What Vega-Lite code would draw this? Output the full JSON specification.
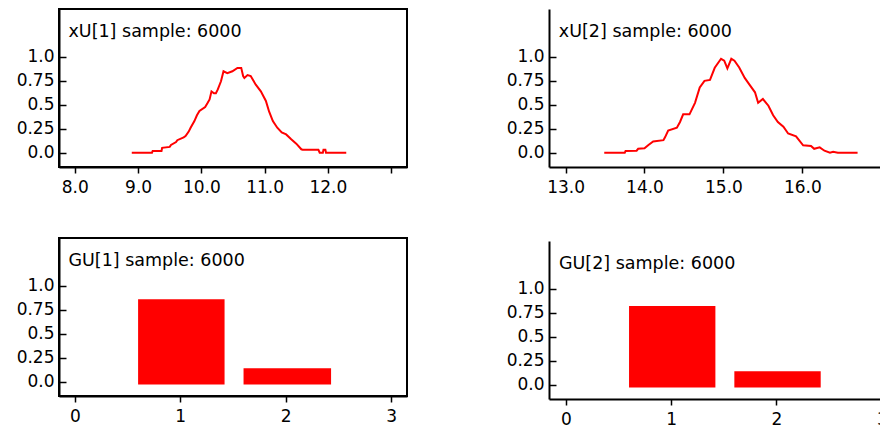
{
  "$schema": "https://vega.github.io/schema/vega-lite/v6.json",
  "background": "white",
  "padding": {"left": 15, "top": 8, "right": -8, "bottom": 0},
  "config": {
    "font": "DejaVu Sans",
    "view": {"stroke": "black", "strokeWidth": 2},
    "axis": {
      "labelFont": "DejaVu Sans",
      "labelFontSize": 17,
      "labelColor": "black",
      "domainColor": "black",
      "domainWidth": 2,
      "tickColor": "black",
      "tickWidth": 1.5,
      "grid": false,
      "title": null,
      "labelOverlap": false,
      "labelFlush": false
    },
    "axisX": {"tickSize": 6, "labelPadding": 6},
    "axisY": {"tickSize": -7, "labelPadding": 12},
    "text": {"font": "DejaVu Sans", "fontSize": 17.5, "color": "black"}
  },
  "datasets": {
    "xU1": [
      {"x": 8.90, "y": 0}, {"x": 9.22, "y": 0}, {"x": 9.23, "y": 0.017}, {"x": 9.37, "y": 0.017},
      {"x": 9.38, "y": 0.05}, {"x": 9.50, "y": 0.06}, {"x": 9.52, "y": 0.08}, {"x": 9.60, "y": 0.11},
      {"x": 9.62, "y": 0.13}, {"x": 9.72, "y": 0.16}, {"x": 9.75, "y": 0.174}, {"x": 9.80, "y": 0.22},
      {"x": 9.83, "y": 0.26}, {"x": 9.89, "y": 0.33}, {"x": 9.93, "y": 0.39}, {"x": 9.97, "y": 0.435},
      {"x": 10.06, "y": 0.476}, {"x": 10.10, "y": 0.52}, {"x": 10.13, "y": 0.556}, {"x": 10.16, "y": 0.64},
      {"x": 10.20, "y": 0.62}, {"x": 10.23, "y": 0.62}, {"x": 10.26, "y": 0.66}, {"x": 10.31, "y": 0.745},
      {"x": 10.35, "y": 0.85}, {"x": 10.41, "y": 0.83}, {"x": 10.49, "y": 0.85}, {"x": 10.57, "y": 0.885},
      {"x": 10.63, "y": 0.885}, {"x": 10.66, "y": 0.80}, {"x": 10.68, "y": 0.78}, {"x": 10.73, "y": 0.81},
      {"x": 10.78, "y": 0.80}, {"x": 10.86, "y": 0.71}, {"x": 10.94, "y": 0.64}, {"x": 11.02, "y": 0.54},
      {"x": 11.07, "y": 0.43}, {"x": 11.13, "y": 0.33}, {"x": 11.20, "y": 0.26}, {"x": 11.27, "y": 0.21},
      {"x": 11.34, "y": 0.19}, {"x": 11.42, "y": 0.14}, {"x": 11.50, "y": 0.094}, {"x": 11.58, "y": 0.035},
      {"x": 11.60, "y": 0.03}, {"x": 11.85, "y": 0.03}, {"x": 11.87, "y": 0.0}, {"x": 11.92, "y": 0.0},
      {"x": 11.93, "y": 0.03}, {"x": 11.96, "y": 0.03}, {"x": 11.97, "y": 0.0}, {"x": 12.29, "y": 0}
    ],
    "xU2": [
      {"x": 13.49, "y": 0}, {"x": 13.75, "y": 0}, {"x": 13.76, "y": 0.017}, {"x": 13.90, "y": 0.02},
      {"x": 13.92, "y": 0.04}, {"x": 14.00, "y": 0.045}, {"x": 14.05, "y": 0.08}, {"x": 14.11, "y": 0.117},
      {"x": 14.24, "y": 0.13}, {"x": 14.26, "y": 0.16}, {"x": 14.30, "y": 0.23}, {"x": 14.41, "y": 0.26},
      {"x": 14.45, "y": 0.32}, {"x": 14.49, "y": 0.40}, {"x": 14.57, "y": 0.40}, {"x": 14.64, "y": 0.52},
      {"x": 14.70, "y": 0.68}, {"x": 14.76, "y": 0.75}, {"x": 14.83, "y": 0.76}, {"x": 14.89, "y": 0.886},
      {"x": 14.97, "y": 0.98}, {"x": 15.01, "y": 0.96}, {"x": 15.05, "y": 0.88}, {"x": 15.10, "y": 0.98},
      {"x": 15.14, "y": 0.96}, {"x": 15.20, "y": 0.89}, {"x": 15.27, "y": 0.78}, {"x": 15.33, "y": 0.71},
      {"x": 15.40, "y": 0.63}, {"x": 15.44, "y": 0.52}, {"x": 15.50, "y": 0.56}, {"x": 15.57, "y": 0.49},
      {"x": 15.63, "y": 0.39}, {"x": 15.69, "y": 0.32}, {"x": 15.76, "y": 0.27}, {"x": 15.82, "y": 0.20},
      {"x": 15.92, "y": 0.17}, {"x": 16.01, "y": 0.076}, {"x": 16.11, "y": 0.07}, {"x": 16.15, "y": 0.04},
      {"x": 16.22, "y": 0.055}, {"x": 16.28, "y": 0.02}, {"x": 16.35, "y": 0.0}, {"x": 16.39, "y": 0.01},
      {"x": 16.45, "y": 0}, {"x": 16.70, "y": 0}
    ],
    "GU1": [
      {"g": 1, "x0": 0.6, "x1": 1.42, "p": 0.86},
      {"g": 2, "x0": 1.6, "x1": 2.43, "p": 0.14}
    ],
    "GU2": [
      {"g": 1, "x0": 0.6, "x1": 1.42, "p": 0.82},
      {"g": 2, "x0": 1.6, "x1": 2.42, "p": 0.14}
    ]
  },
  "spacing": 98,
  "hconcat": [
    {
      "spacing": 41,
      "vconcat": [
        {
          "width": 348, "height": 158,
          "view": {"stroke": "black", "strokeWidth": 2},
          "layer": [
            {
              "data": {"name": "xU1"},
              "mark": {"type": "line", "color": "#ff0000", "strokeWidth": 2},
              "encoding": {
                "x": {"field": "x", "type": "quantitative",
                      "scale": {"domain": [7.75, 13.25], "nice": false, "zero": false},
                      "axis": {"values": [8, 9, 10, 11, 12, 13], "labelDx": 12,
                               "labelExpr": "datum.value == 13 ? '' : format(datum.value, '.1f')"}},
                "y": {"field": "y", "type": "quantitative",
                      "scale": {"domain": [-0.15, 1.5], "nice": false, "zero": false},
                      "axis": {"values": [0, 0.25, 0.5, 0.75, 1],
                               "labelExpr": "datum.value == 0.25 || datum.value == 0.75 ? format(datum.value, '.2f') : format(datum.value, '.1f')"}}
              }
            },
            {
              "data": {"values": [{"label": "xU[1] sample: 6000"}]},
              "mark": {"type": "text", "align": "left", "baseline": "alphabetic"},
              "encoding": {
                "x": {"datum": 7.9, "type": "quantitative",
                      "scale": {"domain": [7.75, 13.25], "nice": false, "zero": false},
                      "axis": {"values": [8, 9, 10, 11, 12, 13], "labelDx": 12,
                               "labelExpr": "datum.value == 13 ? '' : format(datum.value, '.1f')"}},
                "y": {"datum": 1.21, "type": "quantitative",
                      "scale": {"domain": [-0.15, 1.5], "nice": false, "zero": false},
                      "axis": {"values": [0, 0.25, 0.5, 0.75, 1],
                               "labelExpr": "datum.value == 0.25 || datum.value == 0.75 ? format(datum.value, '.2f') : format(datum.value, '.1f')"}},
                "text": {"field": "label"}
              }
            }
          ]
        },
        {
          "width": 348, "height": 158,
          "view": {"stroke": "black", "strokeWidth": 2},
          "layer": [
            {
              "data": {"name": "GU1"},
              "mark": {"type": "bar", "color": "#ff0000"},
              "encoding": {
                "x": {"field": "x0", "type": "quantitative",
                      "scale": {"domain": [-0.15, 3.15], "nice": false, "zero": false},
                      "axis": {"values": [0, 1, 2, 3], "labelDx": 2, "format": "d"}},
                "x2": {"field": "x1"},
                "y": {"field": "p", "type": "quantitative",
                      "scale": {"domain": [-0.15, 1.5], "nice": false, "zero": false},
                      "axis": {"values": [0, 0.25, 0.5, 0.75, 1],
                               "labelExpr": "datum.value == 0.25 || datum.value == 0.75 ? format(datum.value, '.2f') : format(datum.value, '.1f')"}},
                "y2": {"datum": -0.03}
              }
            },
            {
              "data": {"values": [{"label": "GU[1] sample: 6000"}]},
              "mark": {"type": "text", "align": "left", "baseline": "alphabetic"},
              "encoding": {
                "x": {"datum": -0.06, "type": "quantitative",
                      "scale": {"domain": [-0.15, 3.15], "nice": false, "zero": false},
                      "axis": {"values": [0, 1, 2, 3], "labelDx": 2, "format": "d"}},
                "y": {"datum": 1.21, "type": "quantitative",
                      "scale": {"domain": [-0.15, 1.5], "nice": false, "zero": false},
                      "axis": {"values": [0, 0.25, 0.5, 0.75, 1],
                               "labelExpr": "datum.value == 0.25 || datum.value == 0.75 ? format(datum.value, '.2f') : format(datum.value, '.1f')"}},
                "text": {"field": "label"}
              }
            }
          ]
        }
      ]
    },
    {
      "spacing": 46,
      "vconcat": [
        {
          "width": 337, "height": 158,
          "view": {"stroke": null},
          "layer": [
            {
              "data": {"name": "xU2"},
              "mark": {"type": "line", "color": "#ff0000", "strokeWidth": 2},
              "encoding": {
                "x": {"field": "x", "type": "quantitative",
                      "scale": {"domain": [12.79, 17.06], "nice": false, "zero": false},
                      "axis": {"values": [13, 14, 15, 16, 17], "labelDx": 12,
                               "labelExpr": "datum.value == 17 ? '' : format(datum.value, '.1f')"}},
                "y": {"field": "y", "type": "quantitative",
                      "scale": {"domain": [-0.15, 1.5], "nice": false, "zero": false},
                      "axis": {"values": [0, 0.25, 0.5, 0.75, 1],
                               "labelExpr": "datum.value == 0.25 || datum.value == 0.75 ? format(datum.value, '.2f') : format(datum.value, '.1f')"}}
              }
            },
            {
              "data": {"values": [{"label": "xU[2] sample: 6000"}]},
              "mark": {"type": "text", "align": "left", "baseline": "alphabetic"},
              "encoding": {
                "x": {"datum": 12.915, "type": "quantitative",
                      "scale": {"domain": [12.79, 17.06], "nice": false, "zero": false},
                      "axis": {"values": [13, 14, 15, 16, 17], "labelDx": 12,
                               "labelExpr": "datum.value == 17 ? '' : format(datum.value, '.1f')"}},
                "y": {"datum": 1.21, "type": "quantitative",
                      "scale": {"domain": [-0.15, 1.5], "nice": false, "zero": false},
                      "axis": {"values": [0, 0.25, 0.5, 0.75, 1],
                               "labelExpr": "datum.value == 0.25 || datum.value == 0.75 ? format(datum.value, '.2f') : format(datum.value, '.1f')"}},
                "text": {"field": "label"}
              }
            },
            {
              "mark": {"type": "rule", "color": "black", "strokeWidth": 2},
              "encoding": {
                "y": {"datum": 1.5, "type": "quantitative",
                      "scale": {"domain": [-0.15, 1.5], "nice": false, "zero": false},
                      "axis": {"values": [0, 0.25, 0.5, 0.75, 1],
                               "labelExpr": "datum.value == 0.25 || datum.value == 0.75 ? format(datum.value, '.2f') : format(datum.value, '.1f')"}}
              }
            }
          ]
        },
        {
          "width": 337, "height": 158,
          "view": {"stroke": null},
          "layer": [
            {
              "data": {"name": "GU2"},
              "mark": {"type": "bar", "color": "#ff0000"},
              "encoding": {
                "x": {"field": "x0", "type": "quantitative",
                      "scale": {"domain": [-0.16, 3.04], "nice": false, "zero": false},
                      "axis": {"values": [0, 1, 2, 3], "labelDx": 2, "format": "d"}},
                "x2": {"field": "x1"},
                "y": {"field": "p", "type": "quantitative",
                      "scale": {"domain": [-0.15, 1.5], "nice": false, "zero": false},
                      "axis": {"values": [0, 0.25, 0.5, 0.75, 1],
                               "labelExpr": "datum.value == 0.25 || datum.value == 0.75 ? format(datum.value, '.2f') : format(datum.value, '.1f')"}},
                "y2": {"datum": -0.03}
              }
            },
            {
              "data": {"values": [{"label": "GU[2] sample: 6000"}]},
              "mark": {"type": "text", "align": "left", "baseline": "alphabetic"},
              "encoding": {
                "x": {"datum": -0.065, "type": "quantitative",
                      "scale": {"domain": [-0.16, 3.04], "nice": false, "zero": false},
                      "axis": {"values": [0, 1, 2, 3], "labelDx": 2, "format": "d"}},
                "y": {"datum": 1.21, "type": "quantitative",
                      "scale": {"domain": [-0.15, 1.5], "nice": false, "zero": false},
                      "axis": {"values": [0, 0.25, 0.5, 0.75, 1],
                               "labelExpr": "datum.value == 0.25 || datum.value == 0.75 ? format(datum.value, '.2f') : format(datum.value, '.1f')"}},
                "text": {"field": "label"}
              }
            },
            {
              "mark": {"type": "rule", "color": "black", "strokeWidth": 2},
              "encoding": {
                "y": {"datum": 1.5, "type": "quantitative",
                      "scale": {"domain": [-0.15, 1.5], "nice": false, "zero": false},
                      "axis": {"values": [0, 0.25, 0.5, 0.75, 1],
                               "labelExpr": "datum.value == 0.25 || datum.value == 0.75 ? format(datum.value, '.2f') : format(datum.value, '.1f')"}}
              }
            }
          ]
        }
      ]
    }
  ]
}
